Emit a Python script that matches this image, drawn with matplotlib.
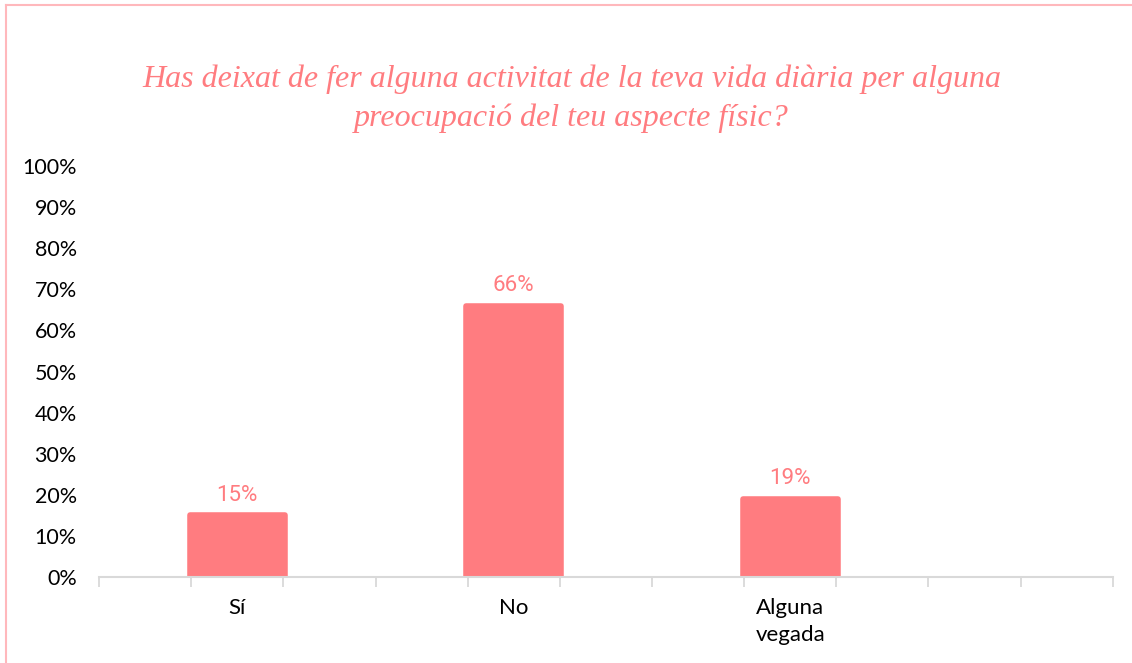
import matplotlib.pyplot as plt
from matplotlib.lines import Line2D

# survey answers and their shares (%)
categories = ['Sí', 'No', 'Alguna\nvegada']
shares = [15, 66, 19]
y_ticks = list(range(0, 101, 10))
title = ('Has deixat de fer alguna activitat de la teva vida diària per alguna\n'
         'preocupació del teu aspecte físic?')

pink = '#FF7C80'
grey = '#D9D9D9'

fig = plt.figure(figsize=(11.32, 6.63), dpi=100)
ax = fig.add_axes([0.0875, 0.1297, 0.8955, 0.6199])

# categories sit every third slot on an 11-slot axis
slots = [1.5 + 3 * i for i in range(len(categories))]
ax.bar(slots, shares, width=1.03, color=pink, edgecolor=pink,
       linewidth=4, joinstyle='round', zorder=2)

for x, v in zip(slots, shares):
    ax.text(x, v + 2.3, f'{v}%', ha='center', va='bottom', color=pink,
            fontsize=16, family='Roboto')

ax.set_xlim(0, 11)
ax.set_ylim(0, 100)

ax.set_xticks(range(12))
ax.set_xticklabels([])
ax.set_xticks(slots, minor=True)
ax.set_xticklabels(categories, minor=True, fontsize=16, family='Lato',
                   linespacing=1.45)
ax.tick_params(axis='x', which='major', length=7, width=1.3, color=grey)
ax.tick_params(axis='x', which='minor', length=0, pad=15)

ax.set_yticks(y_ticks)
ax.set_yticklabels([f'{t}%' for t in y_ticks], fontsize=15.5, family='Lato')
ax.tick_params(axis='y', length=0, pad=16)

for side in ['top', 'right', 'left']:
    ax.spines[side].set_visible(False)
ax.spines['bottom'].set_color(grey)
ax.spines['bottom'].set_linewidth(1.5)
ax.spines['bottom'].set_zorder(3)

fig.text(0.505, 0.851, title, ha='center', va='center', color=pink,
         fontsize=23, style='italic', family='Liberation Serif',
         linespacing=1.45)

# chart frame (left and top edges)
fig.add_artist(Line2D([0.0055, 0.0055], [0, 0.992], color='#FFB8BC', lw=1.5))
fig.add_artist(Line2D([0.0055, 1], [0.992, 0.992], color='#FFB8BC', lw=1.5))

fig.savefig('out.png', dpi=100)
